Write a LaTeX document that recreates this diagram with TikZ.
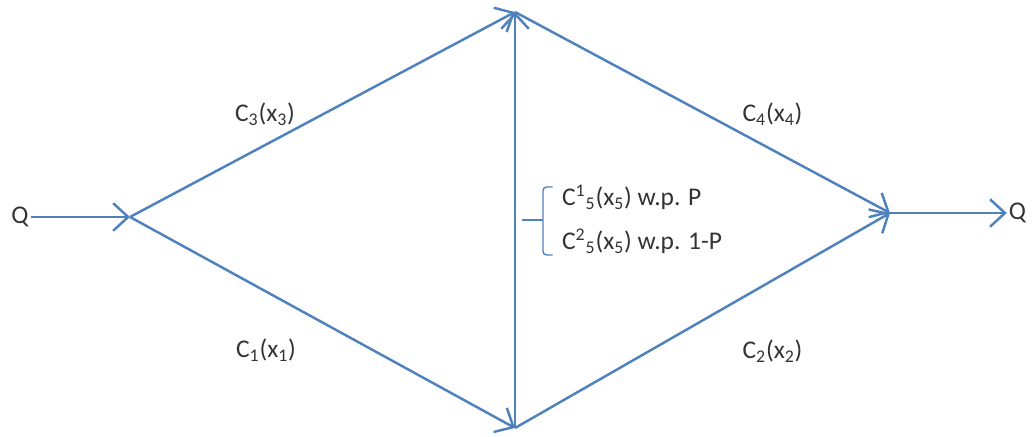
\documentclass[tikz,border=0pt]{standalone}
\usepackage{fontspec}
\setmainfont{Carlito}
\usetikzlibrary{arrows.meta}
\definecolor{linkblue}{RGB}{79,129,189}
\tikzset{
  link/.style={draw=linkblue,line width=1.4pt,-{Straight Barb[length=3mm,width=5.5mm,line width=1.4pt]}},
  lbl/.style={text=black!80,font=\fontsize{14.5}{17}\selectfont,inner sep=1pt}
}
\begin{document}
\begin{tikzpicture}
\useasboundingbox (0,0) rectangle (20.68,8.72);
\node[lbl] (qin) at (0.4,4.38) {Q};
\coordinate (s) at (2.6,4.38);
\coordinate (top) at (10.3,8.48);
\coordinate (bot) at (10.3,0.16);
\coordinate (t) at (17.8,4.46);
\node[lbl] (qout) at (20.35,4.46) {Q};

\draw [link] (qin.east) -- (s);
\draw [link] (s) -- (top);
\draw [link] (s) -- (bot);
\draw [link] (bot) -- (top);
\draw [link] (top) -- (t);
\draw [link] (bot) -- (t);
\draw [link] (t) -- (qout.west);

\node[lbl] (c3) at (5.3,6.44) {C\textsubscript{3}(x\textsubscript{3})};
\node[lbl] (c4) at (15.45,6.44) {C\textsubscript{4}(x\textsubscript{4})};
\node[lbl] (c1) at (5.32,1.72) {C\textsubscript{1}(x\textsubscript{1})};
\node[lbl] (c2) at (15.45,1.7) {C\textsubscript{2}(x\textsubscript{2})};

% bracket for the middle link
\coordinate (bl) at (10.44,4.32);
\coordinate (bm) at (10.86,4.32);
\coordinate (bt) at (10.86,4.98);
\coordinate (bb) at (10.86,3.62);
\node[lbl,anchor=west] (c51) at (11.2,4.78) {C\textsuperscript{1}\textsubscript{5}(x\textsubscript{5}) w.p. P};
\node[lbl,anchor=west] (c52) at (11.2,3.9) {C\textsuperscript{2}\textsubscript{5}(x\textsubscript{5}) w.p. 1-P};
\draw[linkblue,line width=0.8pt] (bl) -- (bm);
\draw[linkblue,line width=0.8pt,rounded corners=2pt] (11.05,4.98) -- (bt) -- (bb) -- (11.05,3.62);
\end{tikzpicture}
\end{document}
